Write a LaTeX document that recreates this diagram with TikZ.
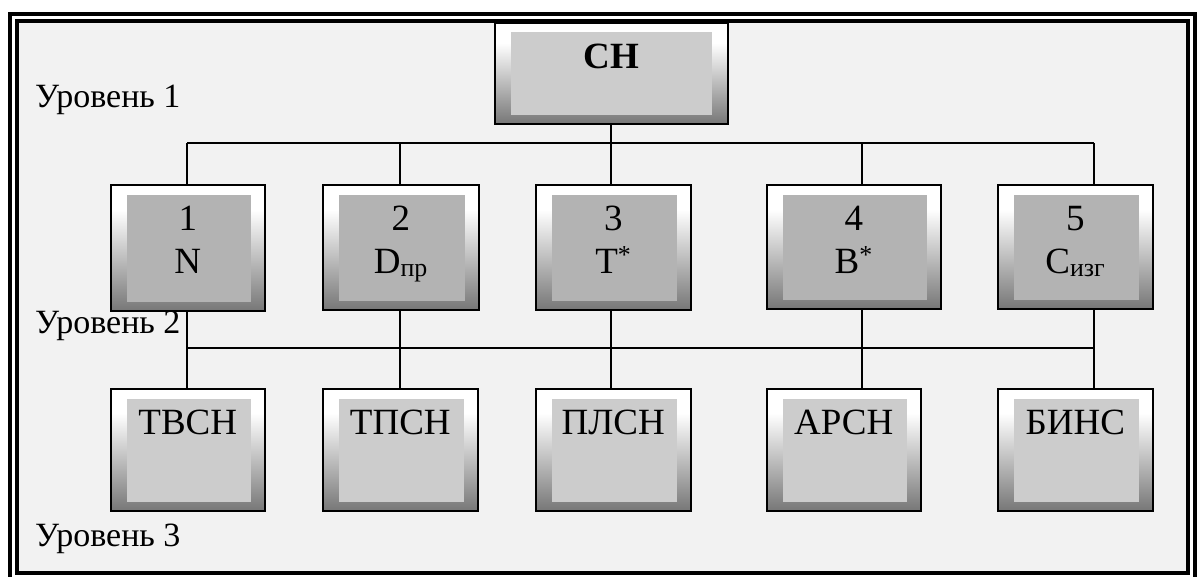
\documentclass[tikz,border=0pt]{standalone}
\usepackage{fontspec}
\setmainfont{Liberation Serif}
\usetikzlibrary{calc}
\definecolor{bggray}{HTML}{F2F2F2}
\definecolor{innerA}{HTML}{CCCCCC}
\definecolor{innerB}{HTML}{B3B3B3}
\definecolor{gbot}{HTML}{777777}
\pgfdeclareverticalshading{boxgrad}{100bp}{color(0bp)=(gbot); color(25bp)=(gbot); color(65bp)=(white); color(100bp)=(white)}
\tikzset{
  gbox/.style={draw=black, line width=1.6pt, shading=boxgrad, inner sep=0pt, anchor=north west},
  conn/.style={draw=black, line width=1.6pt},
  lbl/.style={anchor=base, inner sep=0pt, font=\fontsize{37}{44}\selectfont},
  lvl/.style={anchor=base west, inner sep=0pt, font=\fontsize{34}{40}\selectfont},
  frame/.style={draw=black, line width=4pt}
}
\newcommand\innerfill[2]{\fill[#2] ($(#1.north west)+(17,11)$) rectangle ($(#1.south east)+(-15,-10)$);}
\begin{document}
\begin{tikzpicture}[x=1pt,y=-1pt]
\useasboundingbox (0,0) rectangle (1200,576);
\clip (0,0) rectangle (1200,576);
\fill[white] (0,0) rectangle (1200,576);
\fill[bggray] (17,21) rectangle (1188,573);
\draw[frame] (10,14) rectangle (1195,600);
\draw[frame] (17,21) rectangle (1188,573);

% level labels
\node[lvl] (lev1) at (35,107) {Уровень 1};
\node[lvl] (lev2) at (35,333) {Уровень 2};
\node[lvl] (lev3) at (35,546) {Уровень 3};

% boxes
\node[gbox, minimum width=233pt, minimum height=101pt] (ch) at (494,22) {};
\node[gbox, minimum width=154pt, minimum height=126pt] (n1) at (110,184) {};
\node[gbox, minimum width=156pt, minimum height=125pt] (n2) at (322,184) {};
\node[gbox, minimum width=155pt, minimum height=125pt] (n3) at (535,184) {};
\node[gbox, minimum width=174pt, minimum height=124pt] (n4) at (766,184) {};
\node[gbox, minimum width=155pt, minimum height=124pt] (n5) at (997,184) {};
\node[gbox, minimum width=154pt, minimum height=122pt] (l1) at (110,388) {};
\node[gbox, minimum width=155pt, minimum height=122pt] (l2) at (322,388) {};
\node[gbox, minimum width=155pt, minimum height=122pt] (l3) at (535,388) {};
\node[gbox, minimum width=154pt, minimum height=122pt] (l4) at (766,388) {};
\node[gbox, minimum width=155pt, minimum height=122pt] (l5) at (997,388) {};

\fill[innerA] ($(ch.north west)+(17,10)$) rectangle ($(ch.south east)+(-17,-10)$);
\innerfill{n1}{innerB}\innerfill{n2}{innerB}\innerfill{n3}{innerB}\innerfill{n4}{innerB}\innerfill{n5}{innerB}
\innerfill{l1}{innerA}\innerfill{l2}{innerA}\innerfill{l3}{innerA}\innerfill{l4}{innerA}\innerfill{l5}{innerA}

% connectors
\coordinate (t1) at (187,143);
\coordinate (t2) at (400,143);
\coordinate (t3) at (611,143);
\coordinate (t4) at (862,143);
\coordinate (t5) at (1094,143);
\coordinate (m1) at (187,348);
\coordinate (m2) at (400,348);
\coordinate (m3) at (611,348);
\coordinate (m4) at (862,348);
\coordinate (m5) at (1094,348);
\draw[conn] (t3 |- ch.south) -- (t3);
\draw[conn] (t1) -- (t5);
\draw[conn] (m1) -- (m5);
\foreach \i in {1,...,5}{
  \draw[conn] (t\i) -- (t\i |- n\i.north);
  \draw[conn] (m\i |- n\i.south) -- (m\i |- l\i.north);
}

% texts
\node[lbl, font=\fontsize{37}{44}\selectfont\bfseries] (chT) at ($(ch.north)+(0,46)$) {СН};
\node[lbl] (n1a) at ($(n1.north)+(0,46)$) {1};
\node[lbl] (n1b) at ($(n1.north)+(0,89)$) {N};
\node[lbl] (n2a) at ($(n2.north)+(0,46)$) {2};
\node[lbl] (n2b) at ($(n2.north)+(0,89)$) {D\textsubscript{пр}};
\node[lbl] (n3a) at ($(n3.north)+(0,46)$) {3};
\node[lbl] (n3b) at ($(n3.north)+(0,89)$) {Т\textsuperscript{*}};
\node[lbl] (n4a) at ($(n4.north)+(0,46)$) {4};
\node[lbl] (n4b) at ($(n4.north)+(0,89)$) {В\textsuperscript{*}};
\node[lbl] (n5a) at ($(n5.north)+(0,46)$) {5};
\node[lbl] (n5b) at ($(n5.north)+(0,89)$) {С\textsubscript{изг}};
\node[lbl] (l1T) at ($(l1.north)+(0,46)$) {ТВСН};
\node[lbl] (l2T) at ($(l2.north)+(0,46)$) {ТПСН};
\node[lbl] (l3T) at ($(l3.north)+(0,46)$) {ПЛСН};
\node[lbl] (l4T) at ($(l4.north)+(0,46)$) {АРСН};
\node[lbl] (l5T) at ($(l5.north)+(0,46)$) {БИНС};
\end{tikzpicture}
\end{document}
